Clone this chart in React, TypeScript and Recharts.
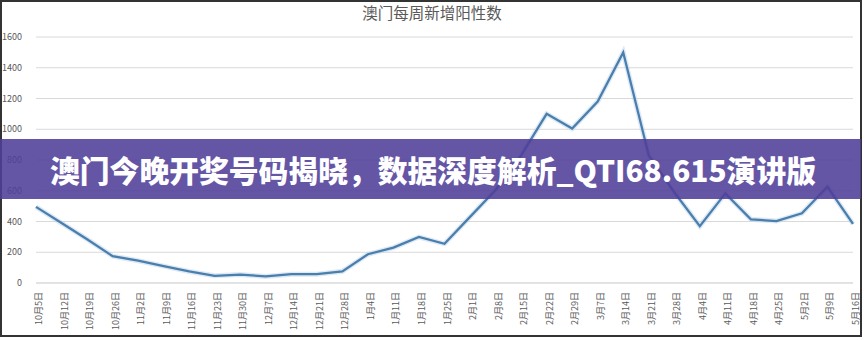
import { CartesianGrid, Line, LineChart, XAxis, YAxis } from 'recharts';

const weeks = [
  '10月5日', '10月12日', '10月19日', '10月26日',
  '11月2日', '11月9日', '11月16日', '11月23日', '11月30日',
  '12月7日', '12月14日', '12月21日', '12月28日',
  '1月4日', '1月11日', '1月18日', '1月25日',
  '2月1日', '2月8日', '2月15日', '2月22日', '2月29日',
  '3月7日', '3月14日', '3月21日', '3月28日',
  '4月4日', '4月11日', '4月18日', '4月25日',
  '5月2日', '5月9日', '5月16日',
];

const positives = [
  495, 390, 285, 175,
  145, 110, 75, 47, 55,
  43, 57, 57, 76,
  187, 230, 299, 255,
  430, 605, 830, 1100, 1005,
  1180, 1500, 830, 590,
  370, 583, 414, 403,
  453, 626, 384,
];

const yTicks = [0, 200, 400, 600, 800, 1000, 1200, 1400, 1600];

const chartTitle = '澳门每周新增阳性数';
const bannerText = '澳门今晚开奖号码揭晓，数据深度解析_QTI68.615演讲版';

const FONT = '"Noto Sans CJK SC", "Noto Sans", sans-serif';

const chartData = weeks.map((week, i) => ({ week, value: positives[i] }));

const WeekTick = ({ x, y, payload }: any) => (
  <g transform={`translate(${x},${y + 9})`}>
    <text
      transform="rotate(-90)"
      textAnchor="end"
      dy={6}
      fontSize={9}
      fill="#595959"
      fontFamily={FONT}
    >
      {payload.value}
    </text>
  </g>
);

const App = () => {
  return (
    <div
      style={{
        position: 'absolute',
        left: 0,
        top: 0,
        width: 865,
        height: 340,
        background: '#fff',
        fontFamily: FONT,
      }}
    >
      <LineChart
        width={865}
        height={340}
        data={chartData}
        margin={{ top: 37, right: 12, left: 0, bottom: 0 }}
      >
        <CartesianGrid vertical={false} stroke="#d9d9d9" />
        <XAxis
          dataKey="week"
          interval={0}
          height={57}
          tickLine={false}
          tickSize={0}
          tickMargin={0}
          axisLine={{ stroke: '#d9d9d9' }}
          tick={<WeekTick />}
        />
        <YAxis
          width={36}
          domain={[0, 1600]}
          ticks={yTicks}
          axisLine={false}
          tickLine={false}
          tickSize={0}
          tickMargin={14}
          tick={{ fontSize: 9, fill: '#595959', fontFamily: FONT }}
        />
        {/* soft halo under the main line */}
        <Line
          dataKey="value"
          stroke="#bcd3ea"
          strokeWidth={5}
          strokeOpacity={0.5}
          dot={false}
          activeDot={false}
          isAnimationActive={false}
        />
        <Line
          dataKey="value"
          stroke="#4a7ead"
          strokeWidth={2.25}
          dot={false}
          isAnimationActive={false}
        />
      </LineChart>
      <svg
        width={865}
        height={340}
        style={{ position: 'absolute', left: 0, top: 0, pointerEvents: 'none' }}
      >
        <rect
          x={1}
          y={1}
          width={860}
          height={335}
          fill="none"
          stroke="#333"
          strokeWidth={2}
        />
        <text
          x={432}
          y={19}
          textAnchor="middle"
          fontSize={15.5}
          fill="#595959"
          fontFamily={FONT}
        >
          {chartTitle}
        </text>
        <rect x={0} y={139} width={861} height={60} fill="#503e99" fillOpacity={0.88} />
        <text
          x={433}
          y={182}
          textAnchor="middle"
          fontSize={30}
          fontWeight={900}
          fill="#ffffff"
          fontFamily={FONT}
          textLength={766}
          lengthAdjust="spacingAndGlyphs"
        >
          {bannerText}
        </text>
      </svg>
    </div>
  );
};

export default App;
